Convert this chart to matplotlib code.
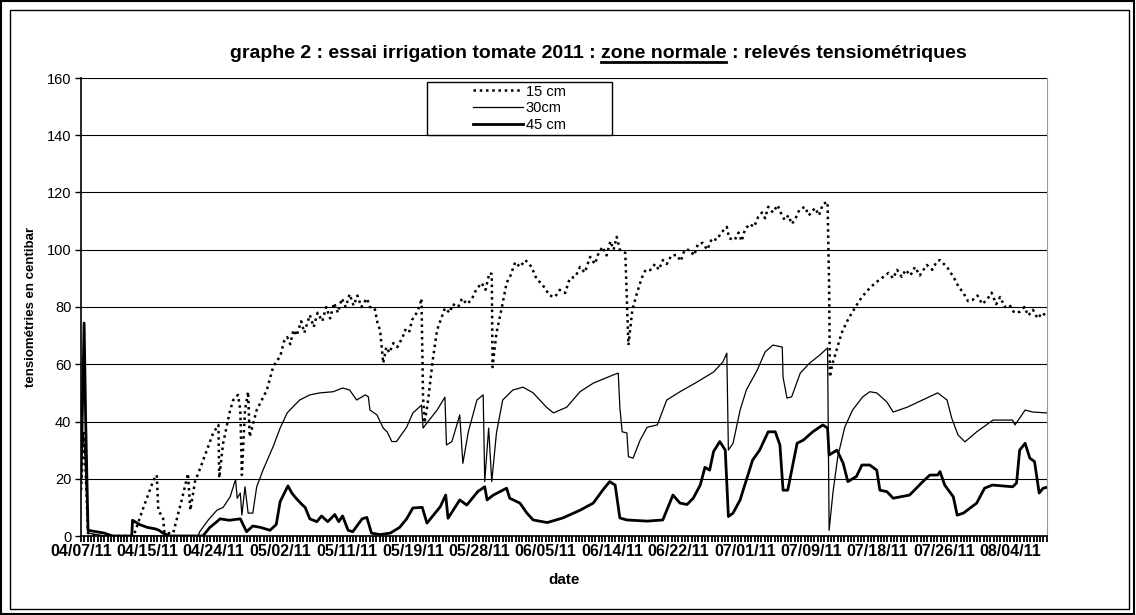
import matplotlib
matplotlib.use("Agg")
import matplotlib.pyplot as plt
import numpy as np
from matplotlib.patches import Rectangle
from matplotlib.lines import Line2D

plt.rcParams['font.family'] = ['Liberation Sans', 'DejaVu Sans']

# x positions are days counted from 04/07/11 (readings are evenly spaced)
tick_days = [0, 8.5, 17, 25.5, 34, 42.5, 51, 59.5, 68, 76.5, 85, 93.5, 102, 110.5, 119]
tick_labels = ['04/07/11', '04/15/11', '04/24/11', '05/02/11', '05/11/11', '05/19/11',
               '05/28/11', '06/05/11', '06/14/11', '06/22/11', '07/01/11', '07/09/11',
               '07/18/11', '07/26/11', '08/04/11']

# 15 cm
d15 = [0, 0.4, 0.9, 2, 6.6, 6.8, 8.0, 9.3, 9.7, 9.9, 10.5, 10.7, 11.8, 12.9, 13.7, 14.0,
       14.6, 15.5, 16.9, 17.6, 17.7, 18.2, 19.1, 19.5, 20.1, 20.4, 20.6, 21.0, 21.4, 21.6,
       22.5, 23.8, 24.6, 25.0, 25.5, 26.0, 26.4, 26.8, 27.2, 27.6, 28.2, 28.6, 29.3, 29.8,
       30.3, 30.9, 31.4, 31.9, 32.4, 32.9, 33.4, 33.9, 34.4, 34.9, 35.4, 35.9, 36.6, 37.0,
       37.6, 38.0, 38.3, 38.7, 39.1, 39.5, 40.0, 40.5, 41.2, 41.5, 42.0, 42.4, 43.0, 43.4,
       43.6, 43.8, 44.0, 44.4, 45.1, 45.6, 46.6, 47.2, 47.6, 48.3, 48.8, 49.4, 50.0, 50.6,
       51.3, 51.8, 52.3, 52.6, 52.7, 53.2, 53.9, 54.5, 55.0, 55.6, 56.2, 56.9, 57.7, 58.3,
       59.0, 59.4, 60.0, 60.7, 61.3, 62.0, 62.6, 63.3, 63.9, 64.5, 65.2, 65.8, 66.3, 66.8,
       67.3, 67.8, 68.2, 68.6, 69.0, 69.4, 69.7, 70.1, 70.6, 71.2, 71.8, 72.3, 72.9, 73.5,
       74.0, 74.5, 75.0, 75.6, 76.3, 76.8, 77.3, 78.0, 78.5, 79.0, 79.6, 80.2, 80.8, 81.4,
       82.0, 82.7, 83.0, 83.7, 84.2, 84.6, 85.0, 85.6, 86.2, 86.7, 87.2, 87.6, 88.0, 88.6,
       89.2, 89.6, 90.1, 90.6, 91.0, 91.4, 92.0, 92.7, 93.2, 94.0, 94.5, 95.0, 95.6, 95.8,
       95.9, 96.2, 96.5, 97.4, 98.1, 98.7, 99.4, 100.0, 100.8, 101.7, 102.5, 103.4, 104.0,
       104.5, 105.1, 105.6, 106.2, 106.8, 107.4, 108.3, 109.0, 109.6, 110.0, 110.5, 110.9,
       111.8, 112.4, 113.0, 113.6, 114.2, 114.8, 115.4, 116.0, 116.6, 117.2, 117.7, 118.3,
       118.9, 119.5, 120.2, 120.8, 121.3, 121.9, 122.5, 123.1, 123.7]
v15 = [16, 36, 1, 0, 0, 0.5, 10, 19.6, 21.3, 9, 6.3, 1, 1, 12.6, 21.8, 9,
       19, 25.4, 35.8, 38.8, 20.3, 32.4, 44, 47.5, 49.3, 44, 21.3, 44, 50.4, 34.6,
       44, 51, 59, 61, 62.6, 68, 69.5, 67, 72, 70, 75, 71, 77.2, 73,
       78, 75, 80, 76, 81.4, 78, 83, 80, 84.5, 80.5, 84, 80, 83, 80,
       79.6, 74, 72, 60.4, 66, 64, 67.4, 66, 69.5, 72, 71, 75.5, 78, 80.7,
       83, 48.6, 39.5, 46.5, 62.6, 72, 79.6, 78, 81, 80, 83, 81, 82.5, 86,
       88.4, 86, 91.9, 91.5, 59, 70.9, 80, 88.4, 91, 95.7, 94, 96.4, 94, 90,
       88, 86.6, 84, 83.5, 86, 84.9, 90.1, 90.5, 94, 92, 97.5, 95, 99, 101,
       98, 103, 100, 104.5, 100, 99.2, 98.9, 66.7, 79, 84.9, 90.1, 93, 92.9, 95,
       93, 96.4, 95, 98, 98.2, 96, 100, 99.9, 98, 102, 102.4, 100, 104, 103.4,
       106, 108, 104, 103.4, 106, 103, 106.9, 109, 108, 111.4, 113, 111, 115, 113,
       115.6, 113, 110.4, 112, 109, 110.4, 114, 115, 112, 114.6, 112, 116, 116.7, 87,
       55.5, 60, 62.6, 70.9, 75, 77.9, 81, 83.5, 86, 88.4, 90, 91.9, 90,
       93, 90.5, 93, 91, 94, 91, 94.7, 93, 96, 96.4, 95, 94,
       90.1, 87, 84.9, 82, 82.5, 84, 81, 82.5, 85, 81, 83.5, 80,
       80.7, 78, 78.3, 80, 77, 79, 76, 78, 76.5]

# 30 cm
d30 = [0, 0.3, 0.5, 0.9, 2, 3, 15.0, 15.2, 16.3, 17.4, 18.2, 19.1, 19.7, 19.8, 20.0, 20.4,
       20.6, 21.0, 21.4, 22.0, 22.5, 23.3, 24.6, 25.5, 26.4, 27.1, 28.0, 29.3, 30.6, 32.3,
       33.5, 34.4, 35.3, 36.4, 36.8, 37.0, 37.9, 38.3, 38.7, 39.2, 39.8, 40.4, 41.7, 42.5,
       43.6, 43.8, 44.3, 45.6, 46.6, 46.8, 47.5, 48.5, 48.9, 49.6, 50.7, 51.5, 51.7, 52.2,
       52.6, 53.2, 54.0, 55.3, 56.6, 57.9, 59.6, 60.5, 62.2, 63.9, 65.6, 68.1, 68.8, 69.0,
       69.3, 69.9, 70.1, 70.7, 71.6, 72.5, 73.8, 75.0, 76.7, 78.9, 81.0, 82.2, 82.7, 82.9,
       83.5, 84.4, 85.2, 86.6, 87.6, 88.6, 89.8, 89.9, 90.4, 91.0, 92.1, 93.3, 94.6, 95.6,
       95.8, 96.3, 96.9, 97.8, 98.8, 100.1, 101.0, 101.9, 103.2, 104.0, 105.8, 108.3, 109.7,
       110.9, 111.5, 112.3, 113.2, 114.7, 116.8, 119.3, 119.6, 120.9, 121.9, 123.7]
v30 = [26, 36, 28, 1, 0.5, 0, 0, 1.5, 5.6, 9, 10, 13.7, 19, 19.6, 13.2, 15,
       7.3, 17.2, 8, 8, 17.2, 23, 31.2, 37.7, 43, 45, 47.5, 49.3, 50, 50.4,
       51.7, 51, 47.5, 49.3, 48.6, 44, 42.3, 40, 37.7, 36.4, 33, 33, 38, 43,
       45.7, 37.7, 39.5, 44, 48.5, 31.8, 33, 42.3, 25.4, 36.4, 47.5, 49.3, 19, 37.7,
       19, 36, 47.5, 51, 52, 50, 45, 43, 45, 50.4, 53.4, 56.2, 56.9, 45,
       36.4, 36, 27.7, 27.2, 33.5, 38, 38.8, 47.5, 50.4, 53.8, 57.3, 60.8, 63.9, 30,
       32.4, 44, 51, 58, 64.3, 66.7, 66, 55.5, 48.2, 48.6, 56.9, 60.4, 63.2, 65.7,
       2, 15.4, 27.6, 38, 44, 48.6, 50.4, 50, 46.8, 43.3, 45, 48.2, 50,
       47.5, 41.2, 35.3, 32.9, 36.4, 40.5, 40.5, 38.8, 44, 43.3, 43]

# 45 cm
d45 = [0, 0.4, 0.6, 0.9, 3, 4, 6.5, 6.6, 7.5, 8.5, 9.5, 10.0, 10.5, 11.4, 15.6, 16.5,
       17.4, 17.8, 19.0, 20.4, 21.2, 22.0, 23.0, 24.2, 25.0, 25.5, 26.4, 26.5, 27.0, 27.6,
       28.3, 28.7, 29.3, 30.2, 30.8, 31.6, 32.5, 33.0, 33.5, 34.2, 34.8, 36.0, 36.6, 37.2,
       38.3, 39.6, 40.8, 41.7, 42.5, 43.7, 44.3, 46.0, 46.7, 47.0, 48.5, 49.4, 50.8, 51.7,
       52.0, 52.8, 54.5, 54.9, 56.2, 57.1, 57.9, 59.7, 61.7, 63.9, 65.6, 66.8, 67.7, 68.4,
       69.0, 69.9, 72.5, 74.5, 75.8, 76.7, 77.6, 78.4, 79.3, 79.9, 80.5, 81.0, 81.8, 82.5,
       82.9, 83.5, 84.4, 85.2, 86.0, 86.9, 88.0, 88.9, 89.5, 89.9, 90.5, 91.7, 92.5, 93.7,
       94.4, 95.0, 95.6, 95.8, 96.8, 97.6, 98.2, 99.3, 100.0, 101.0, 101.9, 102.3, 103.2,
       104.0, 106.1, 107.8, 108.7, 109.7, 110.0, 110.6, 111.7, 112.2, 113.0, 114.7, 115.7,
       116.7, 119.3, 119.8, 120.2, 120.9, 121.5, 122.1, 122.7, 123.2, 123.7]
v45 = [20, 74.4, 40, 2, 1, 0, 0, 5.5, 4, 3, 2.5, 2, 1, 0, 0, 3,
       5, 6, 5.5, 6, 1.5, 3.5, 3, 2, 4, 12, 17, 17.5, 15, 13,
       11, 10, 6, 5, 7, 5, 7.5, 5, 7, 2, 1.5, 6, 6.5, 1,
       0.5, 1, 3, 6, 9.8, 10, 4.5, 10.2, 14.3, 6.2, 12.6, 10.8, 15.5, 17.2,
       12.6, 14.3, 16.7, 13.2, 11.5, 8, 5.6, 4.7, 6.3, 9, 11.5, 16, 19, 17.8,
       6.3, 5.6, 5.2, 5.6, 14.3, 11.5, 11, 13.2, 17.8, 24, 23, 29.5, 33, 30,
       6.8, 8, 12.6, 19.6, 26.5, 30, 36.4, 36.4, 31.8, 16, 16, 32.4, 33.5, 36.4,
       37.7, 38.8, 37.7, 28.3, 30, 25.4, 19, 20.8, 24.8, 24.8, 23, 16, 15.5,
       13.2, 14.3, 19, 21.3, 21.3, 22.5, 17.8, 13.7, 7.3, 8, 11.5, 16.7,
       17.8, 17.2, 18.5, 30, 32.4, 27.2, 26, 15, 16.7, 17]

W, H = 1136, 615
fig = plt.figure(figsize=(W / 100, H / 100), dpi=100)
ax = fig.add_axes([81 / W, (H - 536) / H, (1047 - 81) / W, (536 - 78) / H])

ax.plot(d15, v15, color='black', linestyle=(0, (1, 1.5)), linewidth=1.8, label='15 cm')
ax.plot(d30, v30, color='black', linewidth=0.9, label='30cm')
ax.plot(d45, v45, color='black', linewidth=2.0, label='45 cm')

ax.set_xlim(0, 123.7)
ax.set_ylim(0, 160)
ax.set_yticks(np.arange(0, 161, 20))
ax.set_xticks(tick_days)
ax.set_xticklabels(tick_labels, fontsize=11.5, fontweight='bold')
ax.set_xticks(np.arange(0, 123.7, 0.425), minor=True)
ax.tick_params(axis='x', which='both', direction='out', length=4, width=1.3, pad=2)
ax.tick_params(axis='y', direction='out', length=4, width=1, labelsize=10.5, pad=3)
ax.grid(axis='y', color='black', linewidth=0.8)
ax.set_axisbelow(True)
ax.spines['top'].set_visible(False)
ax.spines['right'].set_color('#999999')
ax.spines['left'].set_linewidth(1.2)
ax.spines['bottom'].set_linewidth(1.2)

ax.set_xlabel('date', fontsize=11, fontweight='bold', labelpad=10)
ax.set_ylabel('tensiométries en centibar', fontsize=9.5, fontweight='bold', labelpad=7)

# legend box
box = Rectangle((0.358, 0.876), 0.192, 0.115, transform=ax.transAxes,
                facecolor='white', edgecolor='black', linewidth=1, zorder=5)
ax.add_patch(box)
leg = ax.legend(loc='center', bbox_to_anchor=(0.454, 0.9335), frameon=False,
                fontsize=10.5, handlelength=3.4, handletextpad=0.2, labelspacing=0.2,
                borderpad=0)
leg.set_zorder(6)

# title with underlined part
prefix = 'graphe 2 : essai irrigation tomate 2011 : '
under = 'zone normale'
title = prefix + under + ' : relevés tensiométriques'
tprops = dict(fontsize=14, fontweight='bold')
tx, ty = 598 / W, 1 - 54 / H
t = fig.text(tx, ty, title, ha='center', va='center', **tprops)
r = fig.canvas.get_renderer()
bb = t.get_window_extent(r)
tmp = fig.text(0, 0, prefix + under, **tprops)
end_x = bb.x0 + tmp.get_window_extent(r).width
tmp.remove()
tmp = fig.text(0, 0, under, **tprops)
w_under = tmp.get_window_extent(r).width
tmp.remove()
uy = (bb.y0 + 1) / H
fig.add_artist(Line2D([(end_x - w_under) / W, end_x / W], [uy, uy],
                      transform=fig.transFigure, color='black', linewidth=2))

# chart borders
fig.add_artist(Rectangle((0.001, 0.002), 0.997, 0.996, transform=fig.transFigure,
                         fill=False, edgecolor='black', linewidth=1.5))
fig.add_artist(Rectangle((10 / W, 6 / H), 1119 / W, 599 / H, transform=fig.transFigure,
                         fill=False, edgecolor='black', linewidth=1.0))

fig.savefig('out.png', dpi=100)
